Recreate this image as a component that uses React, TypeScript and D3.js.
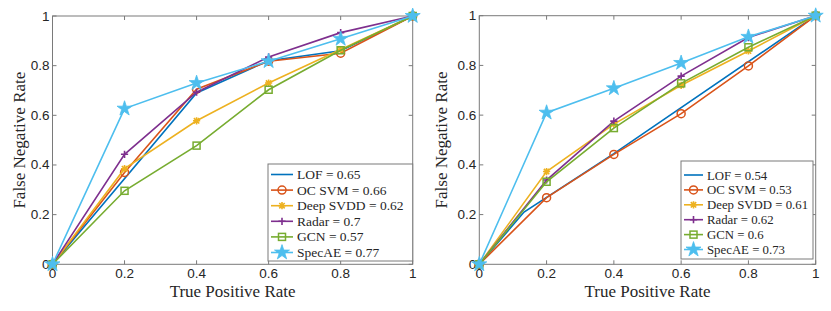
import React from "react";
import * as d3 from "d3";

const xTicks = [0, 0.2, 0.4, 0.6, 0.8, 1];
const yTicks = [0, 0.2, 0.4, 0.6, 0.8, 1];
const xs = [0, 0.2, 0.4, 0.6, 0.8, 1];

const names = ["LOF", "OC SVM", "Deep SVDD", "Radar", "GCN", "SpecAE"];
const colors = ["#0072BD", "#D95319", "#EDB120", "#7E2F8E", "#77AC30", "#4DBEEE"];
const markers = ["none", "circle", "asterisk", "plus", "square", "star"];

// Left panel
const lofXA = [0, 0.4, 0.6, 0.8, 1];
const lofYA = [0, 0.69, 0.82, 0.86, 1];
const ocsvmA = [0, 0.37, 0.705, 0.818, 0.85, 1];
const deepA = [0, 0.385, 0.578, 0.73, 0.865, 1];
const radarA = [0, 0.443, 0.693, 0.835, 0.933, 1];
const gcnA = [0, 0.296, 0.478, 0.703, 0.862, 1];
const specA = [0, 0.627, 0.73, 0.818, 0.908, 1];
const aucA = ["0.65", "0.66", "0.62", "0.7", "0.57", "0.77"];

// Right panel
const lofXB = [0, 0.133, 0.4, 1];
const lofYB = [0, 0.21, 0.445, 1];
const ocsvmB = [0, 0.268, 0.442, 0.606, 0.798, 1];
const deepB = [0, 0.373, 0.564, 0.72, 0.858, 1];
const radarB = [0, 0.339, 0.576, 0.757, 0.912, 1];
const gcnB = [0, 0.332, 0.548, 0.728, 0.873, 1];
const specB = [0, 0.61, 0.708, 0.81, 0.915, 1];
const aucB = ["0.54", "0.53", "0.61", "0.62", "0.6", "0.73"];

type Series = { x: number[]; y: number[] };

const seriesA: Series[] = [
  { x: lofXA, y: lofYA },
  { x: xs, y: ocsvmA },
  { x: xs, y: deepA },
  { x: xs, y: radarA },
  { x: xs, y: gcnA },
  { x: xs, y: specA },
];
const seriesB: Series[] = [
  { x: lofXB, y: lofYB },
  { x: xs, y: ocsvmB },
  { x: xs, y: deepB },
  { x: xs, y: radarB },
  { x: xs, y: gcnB },
  { x: xs, y: specB },
];

const AXIS = "#7a7a7a";
const TEXT = "#262626";
const serifStyle = { fontFamily: "'Liberation Serif', 'Times New Roman', serif" };
const sansStyle = { fontFamily: "'Liberation Sans', Arial, sans-serif" };

function Marker({ kind, cx, cy, color }: { kind: string; cx: number; cy: number; color: string }) {
  const s = 3.6;
  if (kind === "circle")
    return <circle cx={cx} cy={cy} r={4} fill="none" stroke={color} strokeWidth={1.5} />;
  if (kind === "square")
    return <rect x={cx - 3.5} y={cy - 3.5} width={7} height={7} fill="none" stroke={color} strokeWidth={1.5} />;
  if (kind === "plus")
    return (
      <path d={`M${cx - s},${cy}H${cx + s}M${cx},${cy - s}V${cy + s}`} stroke={color} strokeWidth={1.6} />
    );
  if (kind === "asterisk") {
    const d = s * 0.75;
    return (
      <path
        d={`M${cx - s},${cy}H${cx + s}M${cx},${cy - s}V${cy + s}M${cx - d},${cy - d}L${cx + d},${cy + d}M${cx - d},${cy + d}L${cx + d},${cy - d}`}
        stroke={color}
        strokeWidth={1.6}
      />
    );
  }
  if (kind === "star") {
    const p = d3.symbol().type(d3.symbolStar).size(70)() as string;
    return <path d={p} transform={`translate(${cx},${cy})`} fill={color} stroke={color} strokeWidth={0.8} />;
  }
  return null;
}

function Panel({
  x0, x1, y0, y1, series, auc, legend, yLabelX,
}: {
  x0: number; x1: number; y0: number; y1: number;
  series: Series[]; auc: string[];
  legend: { left: number; top: number; right: number; bottom: number; row0: number; step: number; lineLen: number; fs: number };
  yLabelX: number;
}) {
  const xsc = d3.scaleLinear().domain([0, 1]).range([x0, x1]);
  const ysc = d3.scaleLinear().domain([0, 1]).range([y0, y1]);
  const tick = 4;
  return (
    <g>
      <rect x={x0} y={y1} width={x1 - x0} height={y0 - y1} fill="#fff" stroke={AXIS} strokeWidth={1} />
      {xTicks.map((t) => (
        <g key={"x" + t}>
          <line x1={xsc(t)} x2={xsc(t)} y1={y0} y2={y0 - tick} stroke={AXIS} />
          <line x1={xsc(t)} x2={xsc(t)} y1={y1} y2={y1 + tick} stroke={AXIS} />
          <text x={xsc(t)} y={y0 + 14} textAnchor="middle" style={sansStyle} fontSize={13.5} fill={TEXT}>
            {d3.format("~g")(t)}
          </text>
        </g>
      ))}
      {yTicks.map((t) => (
        <g key={"y" + t}>
          <line x1={x0} x2={x0 + tick} y1={ysc(t)} y2={ysc(t)} stroke={AXIS} />
          <line x1={x1} x2={x1 - tick} y1={ysc(t)} y2={ysc(t)} stroke={AXIS} />
          <text x={x0 - 3} y={ysc(t) + 4.5} textAnchor="end" style={sansStyle} fontSize={13.5} fill={TEXT}>
            {d3.format("~g")(t)}
          </text>
        </g>
      ))}
      <text x={(x0 + x1) / 2} y={y0 + 33} textAnchor="middle" style={serifStyle} fontSize={17} fill={TEXT}>
        True Positive Rate
      </text>
      <text
        transform={`translate(${yLabelX},${(y0 + y1) / 2}) rotate(-90)`}
        textAnchor="middle"
        style={serifStyle}
        fontSize={17}
        fill={TEXT}
      >
        False Negative Rate
      </text>
      {series.map((s, i) => {
        const pts = s.x.map((v, j) => [xsc(v), ysc(s.y[j])] as [number, number]);
        const path = d3.line()(pts) as string;
        return (
          <g key={"s" + i}>
            <path d={path} fill="none" stroke={colors[i]} strokeWidth={1.6} />
            {pts.map((p, j) => (
              <Marker key={j} kind={markers[i]} cx={p[0]} cy={p[1]} color={colors[i]} />
            ))}
          </g>
        );
      })}
      <rect
        x={legend.left}
        y={legend.top}
        width={legend.right - legend.left}
        height={legend.bottom - legend.top}
        fill="#fff"
        stroke={AXIS}
        strokeWidth={1}
      />
      {names.map((n, i) => {
        const ly = legend.row0 + i * legend.step;
        const lx0 = legend.left + 3;
        const lx1 = lx0 + legend.lineLen;
        return (
          <g key={"l" + i}>
            <line x1={lx0} x2={lx1} y1={ly} y2={ly} stroke={colors[i]} strokeWidth={1.6} />
            <Marker kind={markers[i]} cx={(lx0 + lx1) / 2} cy={ly} color={colors[i]} />
            <text x={lx1 + 4} y={ly + 4.5} style={serifStyle} fontSize={legend.fs} fill={TEXT}>
              {`${n} = ${auc[i]}`}
            </text>
          </g>
        );
      })}
    </g>
  );
}

export default function App() {
  return (
    <svg
      width={831}
      height={311}
      style={{ position: "absolute", left: 0, top: 0, background: "#fff" }}
    >
      <rect width={831} height={311} fill="#fff" />
      <Panel
        x0={52.5}
        x1={412.7}
        y0={264.3}
        y1={16}
        series={seriesA}
        auc={aucA}
        yLabelX={25}
        legend={{ left: 268, top: 164, right: 412.7, bottom: 261, row0: 174.5, step: 15.6, lineLen: 22, fs: 13.5 }}
      />
      <Panel
        x0={479.3}
        x1={815.7}
        y0={264.3}
        y1={15.7}
        series={seriesB}
        auc={aucB}
        yLabelX={447}
        legend={{ left: 681, top: 161, right: 813, bottom: 259, row0: 175, step: 14.9, lineLen: 19, fs: 12.8 }}
      />
    </svg>
  );
}
